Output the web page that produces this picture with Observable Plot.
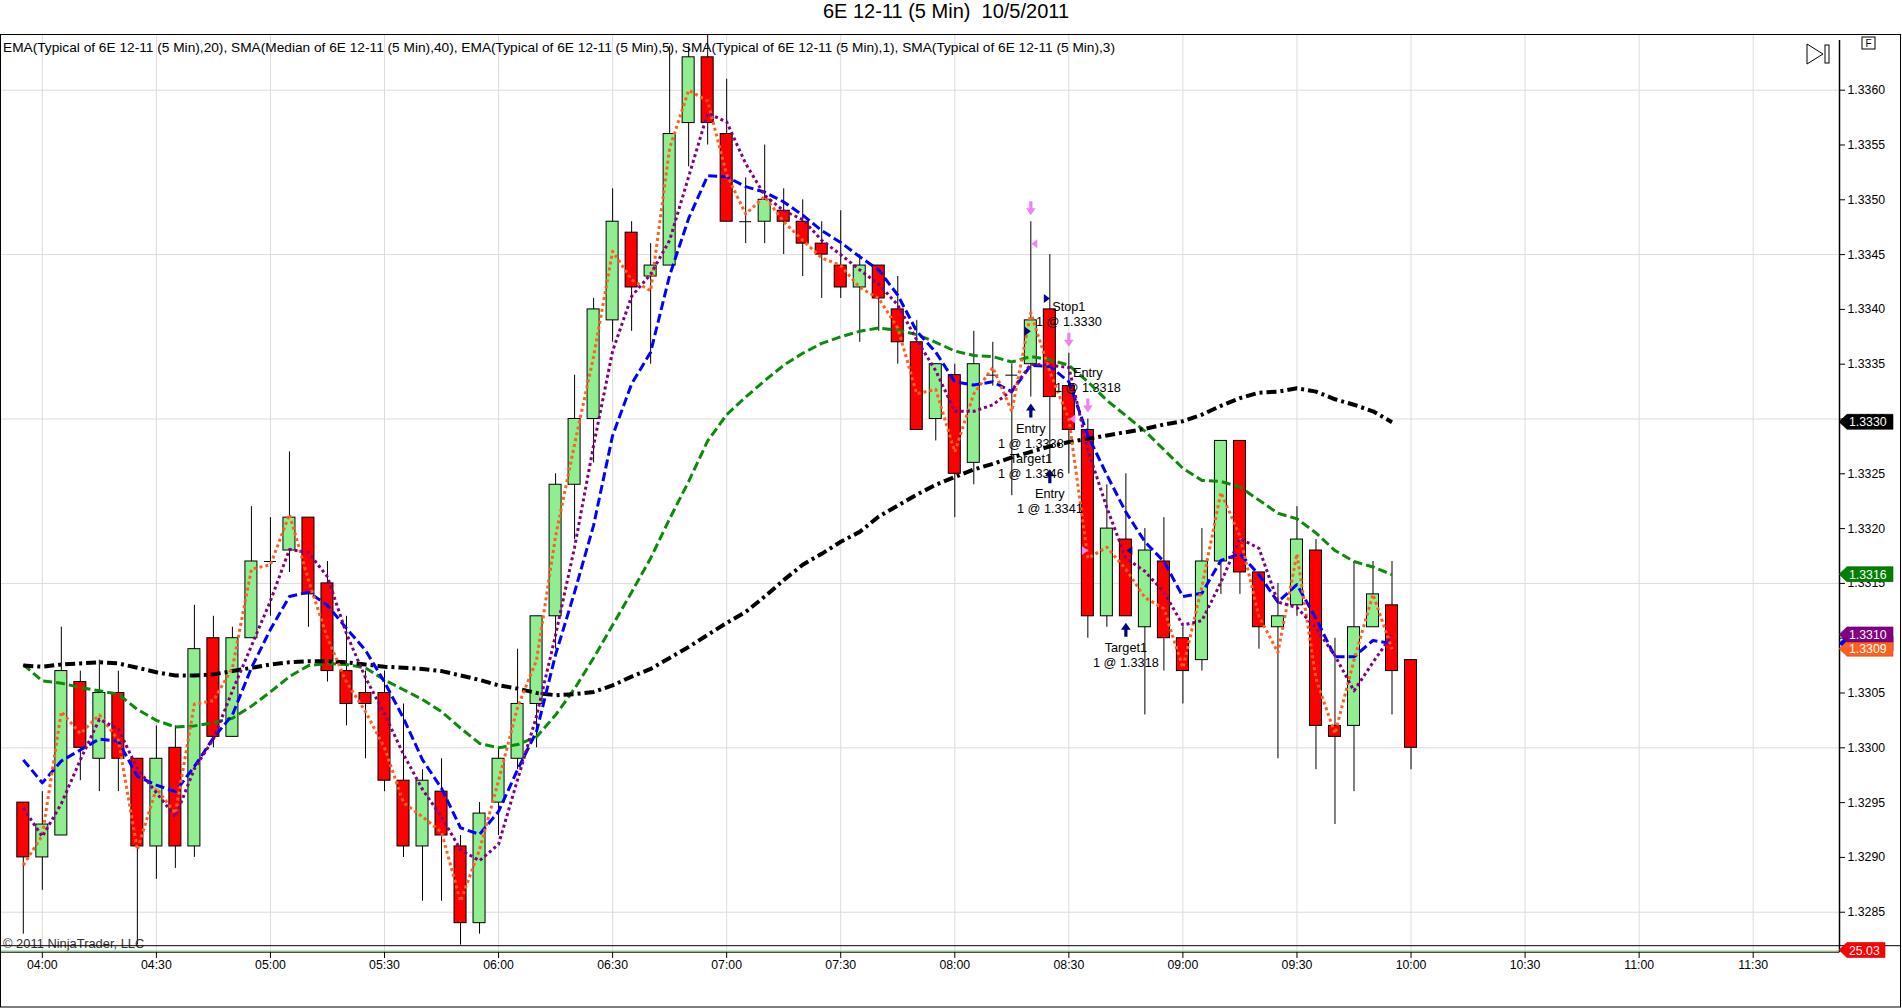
<!DOCTYPE html>
<html>
<head>
<meta charset="utf-8">
<script src="https://cdn.jsdelivr.net/npm/d3@7"></script>
<script src="https://cdn.jsdelivr.net/npm/@observablehq/plot@0.6"></script>
<style>
  html, body { margin: 0; padding: 0; background: #fff; }
  #title { height: 34px; line-height: 32px; text-align: center; padding-right: 10px;
           font: 20px "Liberation Sans", Arial, sans-serif; color: #000; white-space: pre; }
  #chart svg { display: block; }
</style>
</head>
<body>
<div id="title">6E 12-11 (5 Min)  10/5/2011</div>
<div id="chart"></div>
<script>
// ---------------- data ----------------
const times = [
  "03:55","04:00","04:05","04:10","04:15","04:20","04:25","04:30","04:35","04:40","04:45","04:50","04:55",
  "05:00","05:05","05:10","05:15","05:20","05:25","05:30","05:35","05:40","05:45","05:50","05:55",
  "06:00","06:05","06:10","06:15","06:20","06:25","06:30","06:35","06:40","06:45","06:50","06:55",
  "07:00","07:05","07:10","07:15","07:20","07:25","07:30","07:35","07:40","07:45","07:50","07:55",
  "08:00","08:05","08:10","08:15","08:20","08:25","08:30","08:35","08:40","08:45","08:50","08:55",
  "09:00","09:05","09:10","09:15","09:20","09:25","09:30","09:35","09:40","09:45","09:50","09:55",
  "10:00"
];
const open = [
  1.3295,1.3290,1.3292,1.3306,1.3299,1.3305,1.3299,1.3291,1.3300,1.3291,1.3310,1.3301,1.3310,
  1.3317,1.3318,1.3321,1.3315,1.3307,1.3305,1.3305,1.3297,1.3291,1.3296,1.3291,1.3284,
  1.3295,1.3299,1.3304,1.3312,1.3324,1.3330,1.3339,1.3347,1.3343,1.3344,1.3357,1.3363,
  1.3356,1.3348,1.3348,1.3349,1.3348,1.3346,1.3344,1.3342,1.3344,1.3340,1.3337,1.3330,
  1.3334,1.3326,1.3334,1.3334,1.3335,1.3340,1.3333,1.3329,1.3312,1.3319,1.3311,1.3317,
  1.3310,1.3308,1.3317,1.3328,1.3316,1.3311,1.3313,1.3318,1.3302,1.3302,1.3311,1.3313,
  1.3308
];
const high = [
  1.3295,1.3296,1.3311,1.3307,1.3308,1.3307,1.3299,1.3302,1.3302,1.3313,1.3312,1.3311,1.3322,
  1.3321,1.3327,1.3321,1.3317,1.3312,1.3307,1.3307,1.3304,1.3298,1.3299,1.3292,1.3295,
  1.3300,1.3309,1.3312,1.3325,1.3334,1.3341,1.3351,1.3348,1.3346,1.3364,1.3364,1.3365,
  1.3361,1.3352,1.3355,1.3351,1.3350,1.3348,1.3349,1.3345,1.3344,1.3343,1.3339,1.3335,
  1.3335,1.3338,1.3337,1.3335,1.3348,1.3345,1.3336,1.3330,1.3324,1.3325,1.3320,1.3321,
  1.3311,1.3320,1.3328,1.3328,1.3316,1.3315,1.3322,1.3319,1.3310,1.3317,1.3317,1.3317,
  1.3308
];
const low = [
  1.3283,1.3287,1.3292,1.3297,1.3296,1.3296,1.3282,1.3288,1.3289,1.3290,1.3300,1.3301,1.3310,
  1.3312,1.3316,1.3311,1.3306,1.3302,1.3299,1.3296,1.3290,1.3286,1.3286,1.3282,1.3283,
  1.3292,1.3298,1.3300,1.3309,1.3319,1.3326,1.3337,1.3338,1.3335,1.3344,1.3353,1.3355,
  1.3348,1.3346,1.3346,1.3345,1.3343,1.3341,1.3341,1.3337,1.3338,1.3335,1.3329,1.3328,
  1.3321,1.3324,1.3333,1.3323,1.3332,1.3326,1.3325,1.3310,1.3311,1.3312,1.3303,1.3307,
  1.3304,1.3307,1.3314,1.3314,1.3309,1.3299,1.3312,1.3298,1.3293,1.3296,1.3311,1.3303,
  1.3298
];
const close = [
  1.3290,1.3293,1.3307,1.3300,1.3305,1.3299,1.3291,1.3299,1.3291,1.3309,1.3301,1.3310,1.3317,
  1.3317,1.3321,1.3314,1.3307,1.3304,1.3304,1.3297,1.3291,1.3297,1.3292,1.3284,1.3294,
  1.3299,1.3304,1.3312,1.3324,1.3330,1.3340,1.3348,1.3342,1.3344,1.3356,1.3363,1.3357,
  1.3348,1.3348,1.3350,1.3348,1.3346,1.3345,1.3342,1.3344,1.3341,1.3337,1.3329,1.3335,
  1.3325,1.3335,1.3334,1.3334,1.3339,1.3332,1.3329,1.3312,1.3320,1.3312,1.3318,1.3310,
  1.3307,1.3317,1.3328,1.3316,1.3311,1.3312,1.3319,1.3302,1.3301,1.3311,1.3314,1.3307,
  1.3300
];
// indicator lines (values at each bar, 03:55 .. 09:55)
const ema20 = [
  1.33076,1.33061,1.33059,1.33055,1.33052,1.33049,1.33035,1.33025,1.33019,1.33020,1.33023,1.33027,1.33038,
  1.33051,1.33065,1.33075,1.33077,1.33076,1.33073,1.33062,1.33053,1.33044,1.33033,1.33018,1.33004,
  1.33000,1.33003,1.33010,1.33030,1.33054,1.33082,1.33112,1.33142,1.33173,1.33209,1.33243,1.33280,
  1.33304,1.33320,1.33335,1.33349,1.33360,1.33369,1.33375,1.33380,1.33383,1.33381,1.33377,1.33370,
  1.33362,1.33358,1.33357,1.33352,1.33357,1.33354,1.33349,1.33334,1.33317,1.33303,1.33289,1.33272,
  1.33255,1.33244,1.33243,1.33238,1.33226,1.33214,1.33209,1.33196,1.33180,1.33170,1.33165,1.33158
];
const sma40 = [
  1.33075,1.33074,1.33076,1.33077,1.33078,1.33077,1.33073,1.33069,1.33066,1.33066,1.33067,1.33070,1.33073,
  1.33076,1.33078,1.33079,1.33079,1.33078,1.33076,1.33074,1.33073,1.33072,1.33070,1.33066,1.33062,
  1.33057,1.33054,1.33050,1.33048,1.33049,1.33051,1.33057,1.33065,1.33072,1.33082,1.33092,1.33103,
  1.33114,1.33124,1.33138,1.33153,1.33167,1.33177,1.33188,1.33197,1.33211,1.33221,1.33231,1.33240,
  1.33247,1.33254,1.33259,1.33265,1.33270,1.33275,1.33279,1.33282,1.33285,1.33288,1.33291,1.33295,
  1.33298,1.33304,1.33312,1.33319,1.33324,1.33325,1.33328,1.33325,1.33318,1.33313,1.33307,1.33297
];
const ema5 = [
  1.32989,1.32968,1.32988,1.32998,1.33008,1.33006,1.32974,1.32966,1.32960,1.32983,1.33009,1.33030,1.33073,
  1.33108,1.33138,1.33142,1.33130,1.33109,1.33089,1.33060,1.33027,1.32989,1.32963,1.32927,1.32921,
  1.32942,1.32980,1.33015,1.33085,1.33142,1.33203,1.33285,1.33332,1.33361,1.33431,1.33483,1.33522,
  1.33521,1.33512,1.33507,1.33498,1.33486,1.33472,1.33461,1.33448,1.33436,1.33413,1.33380,1.33361,
  1.33334,1.33331,1.33334,1.33325,1.33349,1.33348,1.33334,1.33285,1.33249,1.33215,1.33188,1.33170,
  1.33138,1.33141,1.33171,1.33177,1.33158,1.33133,1.33149,1.33118,1.33083,1.33083,1.33098,1.33095
];
const sma1 = [
  1.32893,1.32920,1.33033,1.33013,1.33030,1.33007,1.32907,1.32963,1.32940,1.33040,1.33043,1.33073,1.33163,
  1.33167,1.33213,1.33153,1.33100,1.33060,1.33033,1.33000,1.32950,1.32937,1.32923,1.32860,1.32907,
  1.32970,1.33037,1.33080,1.33193,1.33277,1.33357,1.33453,1.33427,1.33417,1.33547,1.33600,1.33590,
  1.33523,1.33487,1.33503,1.33480,1.33463,1.33447,1.33440,1.33420,1.33410,1.33383,1.33323,1.33327,
  1.33270,1.33323,1.33347,1.33307,1.33397,1.33343,1.33300,1.33173,1.33183,1.33163,1.33137,1.33127,
  1.33073,1.33147,1.33233,1.33193,1.33120,1.33087,1.33177,1.33063,1.33013,1.33080,1.33140,1.33090
];
const sma3 = [
  1.32945,1.32919,1.32949,1.32989,1.33026,1.33017,1.32981,1.32959,1.32937,1.32981,1.33008,1.33052,1.33093,
  1.33134,1.33181,1.33178,1.33156,1.33104,1.33064,1.33031,1.32994,1.32962,1.32937,1.32907,1.32897,
  1.32912,1.32971,1.33029,1.33103,1.33183,1.33276,1.33362,1.33412,1.33432,1.33463,1.33521,1.33579,
  1.33571,1.33533,1.33504,1.33490,1.33482,1.33463,1.33450,1.33436,1.33423,1.33404,1.33372,1.33344,
  1.33307,1.33307,1.33313,1.33326,1.33350,1.33349,1.33347,1.33272,1.33219,1.33173,1.33161,1.33142,
  1.33112,1.33116,1.33151,1.33191,1.33182,1.33133,1.33128,1.33109,1.33084,1.33052,1.33078,1.33103
];
const priceTicks = [1.3285,1.3290,1.3295,1.3300,1.3305,1.3310,1.3315,1.3320,1.3325,1.3330,1.3335,1.3340,1.3345,1.3350,1.3355,1.3360];
const gridPrices = [1.3285,1.3300,1.3315,1.3330,1.3345,1.3360];
const timeTicks = ["04:00","04:30","05:00","05:30","06:00","06:30","07:00","07:30","08:00","08:30","09:00","09:30","10:00","10:30","11:00","11:30"];
const lowerPanelValue = 25.03;

// executions (trade markers)
const sellArrowTimes = ["08:20","08:30","08:35"];
const buyArrowTimes = ["08:20","08:25","08:45"];
const sellLabels = [
  {time: "08:30", text: "Stop1\n1 @ 1.3330"},
  {time: "08:35", text: "Entry\n1 @ 1.3318"}
];
const buyLabels = [
  {time: "08:20", text: "Entry\n1 @ 1.3338\nTarget1\n1 @ 1.3346"},
  {time: "08:25", text: "Entry\n1 @ 1.3341"},
  {time: "08:45", text: "Target1\n1 @ 1.3318"}
];
const buyFillsRight = [{time: "08:20", price: 1.3338}, {time: "08:25", price: 1.3341}];
const buyFillsLeft = [{time: "08:45", price: 1.3318}];
const sellFillsLeft = [{time: "08:20", price: 1.3346}, {time: "08:30", price: 1.3330}];
const sellFillsRight = [{time: "08:35", price: 1.3318}];

const legendText = "EMA(Typical of 6E 12-11 (5 Min),20), SMA(Median of 6E 12-11 (5 Min),40), EMA(Typical of 6E 12-11 (5 Min),5), SMA(Typical of 6E 12-11 (5 Min),1), SMA(Typical of 6E 12-11 (5 Min),3)";

// ---------------- build ----------------
const toMin = s => +s.slice(0, 2) * 60 + +s.slice(3);
const fmtMin = m => String(Math.floor(m / 60)).padStart(2, "0") + ":" + String(m % 60).padStart(2, "0");
const bars = times.map((t, i) => ({t: toMin(t), open: open[i], high: high[i], low: low[i], close: close[i]}));
const barAt = s => bars[times.indexOf(s)];
const bodies = bars.filter(d => d.open !== d.close);
const dojis = bars.filter(d => d.open === d.close);
const HALF = 1.58; // half body width in minutes

const series = [
  {name: "EMA20", values: ema20, stroke: "#0b8a0b", width: 3, dash: "9,4"},
  {name: "SMA40", values: sma40, stroke: "#000000", width: 4, dash: "10,4,3,4"},
  {name: "EMA5",  values: ema5,  stroke: "#0000ff", width: 3, dash: "9,4"},
  {name: "SMA1",  values: sma1,  stroke: "#ff5f1f", width: 3, dash: "3,3"},
  {name: "SMA3",  values: sma3,  stroke: "#800080", width: 3, dash: "3,3"}
];
const lineMarks = series.map(s => Plot.line(
  s.values.map((v, i) => ({t: toMin(times[i]), v})),
  {x: "t", y: "v", stroke: s.stroke, strokeWidth: s.width, strokeDasharray: s.dash, strokeLinecap: "butt", strokeLinejoin: "round"}
));

const sym = pts => ({draw(ctx, size) {
  const r = Math.sqrt(size / Math.PI);
  ctx.moveTo(pts[0][0] * r, pts[0][1] * r);
  for (let k = 1; k < pts.length; ++k) ctx.lineTo(pts[k][0] * r, pts[k][1] * r);
  ctx.closePath();
}});
const arrowDown = sym([[-1.6,-7],[1.6,-7],[1.6,0],[4.8,0],[0,7],[-4.8,0],[-1.6,0]]);
const arrowUp = sym([[-1.6,7],[1.6,7],[1.6,0],[4.8,0],[0,-7],[-4.8,0],[-1.6,0]]);
const triRight = sym([[-3,-4.5],[3,0],[-3,4.5]]);
const triLeft = sym([[3,-4.5],[-3,0],[3,4.5]]);
const PINK = "#ee82ee", NAVY = "#000080";
const pos = arr => arr.map(d => ({t: toMin(d.time), price: d.price}));

const chart = Plot.plot({
  width: 1902,
  height: 974,
  marginTop: 1, marginRight: 63, marginBottom: 56, marginLeft: 0,
  style: {fontFamily: "'Liberation Sans', Arial, sans-serif", background: "white", color: "black"},
  x: {type: "linear", domain: [229.0, 712.7], range: [0, 1839], label: null},
  y: {type: "linear", domain: [1.328190, 1.336499], range: [911.7, 1], label: null},
  marks: [
    Plot.ruleY(gridPrices, {stroke: "#dcdcdc", strokeWidth: 1}),
    Plot.ruleX(timeTicks.map(toMin), {stroke: "#dcdcdc", strokeWidth: 1}),
    Plot.axisY({anchor: "right", ticks: priceTicks, tickFormat: d => d.toFixed(4), tickSize: 5, tickPadding: 3, fontSize: 12.3, label: null}),
    Plot.axisX({anchor: "bottom", ticks: timeTicks.map(toMin), tickFormat: fmtMin, tickSize: 6, tickPadding: 2, fontSize: 12.3, label: null}),
    // candles
    Plot.ruleX(bars, {x: "t", y1: "low", y2: "high", stroke: "black", strokeWidth: 1}),
    Plot.rect(bodies, {x1: d => d.t - HALF, x2: d => d.t + HALF, y1: "open", y2: "close",
      fill: d => d.close > d.open ? "#90ee90" : "#ff0000", stroke: "black", strokeWidth: 1}),
    Plot.ruleY(dojis, {y: "open", x1: d => d.t - HALF, x2: d => d.t + HALF, stroke: "black", strokeWidth: 1}),
    // indicators
    ...lineMarks,
    // executions
    Plot.dot(sellArrowTimes.map(barAt), {x: "t", y: "high", dy: -13.5, symbol: arrowDown, r: 1, fill: PINK, stroke: "none"}),
    Plot.dot(buyArrowTimes.map(barAt), {x: "t", y: "low", dy: 13.5, symbol: arrowUp, r: 1, fill: NAVY, stroke: "none"}),
    Plot.dot(pos(buyFillsRight), {x: "t", y: "price", dx: -3, symbol: triRight, r: 1, fill: NAVY, stroke: "none"}),
    Plot.dot(pos(buyFillsLeft), {x: "t", y: "price", dx: 3.5, symbol: triLeft, r: 1, fill: NAVY, stroke: "none"}),
    Plot.dot(pos(sellFillsLeft), {x: "t", y: "price", dx: 3.5, symbol: triLeft, r: 1, fill: PINK, stroke: "none"}),
    Plot.dot(pos(sellFillsRight), {x: "t", y: "price", dx: -3, symbol: triRight, r: 1, fill: PINK, stroke: "none"}),
    Plot.text(sellLabels.map(d => ({...barAt(d.time), text: d.text})), {x: "t", y: "high", text: "text",
      lineAnchor: "bottom", dy: -27.5, fontSize: 12.7, lineHeight: 1.18, fill: "black"}),
    Plot.text(buyLabels.map(d => ({...barAt(d.time), text: d.text})), {x: "t", y: "low", text: "text",
      lineAnchor: "top", dy: 25, fontSize: 12.7, lineHeight: 1.18, fill: "black"})
  ]
});

// ---------------- chrome (frame, panels, price markers) ----------------
const svg = d3.select(chart);
const yS = chart.scale("y");
const g = svg.append("g").attr("text-anchor", "start");
// legend of the indicators
g.append("text").attr("x", 3).attr("y", 13.5).attr("dominant-baseline", "central").attr("text-anchor", "start")
  .attr("font-size", 13.6).attr("fill", "black").attr("textLength", 1112).attr("lengthAdjust", "spacingAndGlyphs")
  .text(legendText);
// copyright
g.append("text").attr("x", 3).attr("y", 909.5).attr("dominant-baseline", "central").attr("text-anchor", "start")
  .attr("font-size", 12.9).attr("fill", "#333").text("© 2011 NinjaTrader, LLC");
// panel separators and axes lines
g.append("line").attr("x1", 0).attr("x2", 1900).attr("y1", 911.7).attr("y2", 911.7).attr("stroke", "black");
g.append("line").attr("x1", 0).attr("x2", 1839).attr("y1", 916.8).attr("y2", 916.8).attr("stroke", "#90ee90");
g.append("line").attr("x1", 0).attr("x2", 1839).attr("y1", 918.2).attr("y2", 918.2).attr("stroke", "black");
g.append("line").attr("x1", 1839.5).attr("x2", 1839.5).attr("y1", 6).attr("y2", 918.2).attr("stroke", "black").attr("stroke-width", 1.5);
// outer frame
g.append("rect").attr("x", 0.5).attr("y", 0.5).attr("width", 1900).attr("height", 972.5)
  .attr("fill", "none").attr("stroke", "black");
// top-right icons
g.append("path").attr("d", "M1807,10 L1823,20 L1807,30 Z").attr("fill", "none").attr("stroke", "black");
g.append("rect").attr("x", 1825).attr("y", 11).attr("width", 4).attr("height", 18).attr("fill", "none").attr("stroke", "black");
g.append("rect").attr("x", 1862).attr("y", 3).attr("width", 13).attr("height", 12).attr("fill", "none").attr("stroke", "black");
g.append("text").attr("x", 1868.5).attr("y", 9.5).attr("text-anchor", "middle").attr("dominant-baseline", "central")
  .attr("font-size", 10).text("F");
// last-value markers on the price axis
const marker = (yy, color, label, right) => {
  g.append("path").attr("d", `M1839,${yy} L1847,${yy - 7.5} L${right},${yy - 7.5} L${right},${yy + 7.5} L1847,${yy + 7.5} Z`)
    .attr("fill", color).attr("stroke", d3.color(color).darker(0.6)).attr("stroke-width", 0.6);
  g.append("text").attr("x", 1849).attr("y", yy + 0.5).attr("dominant-baseline", "central").attr("text-anchor", "start")
    .attr("font-size", 12.3).attr("fill", "white").text(label);
};
const order = ["EMA5", "SMA1", "SMA3", "EMA20", "SMA40"];
for (const name of order) {
  const s = series.find(d => d.name === name);
  const last = s.values[s.values.length - 1];
  marker(yS.apply(last), name === "EMA20" ? "#008000" : s.stroke, last.toFixed(4), 1893);
}
marker(916, "#ff0000", lowerPanelValue.toFixed(2), 1885);

document.getElementById("chart").appendChild(chart);
</script>
</body>
</html>
